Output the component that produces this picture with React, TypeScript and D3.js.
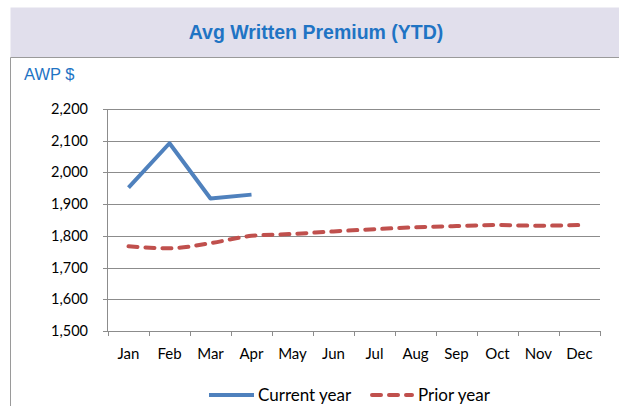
import React from "react";
import * as d3 from "d3";

const months = ["Jan", "Feb", "Mar", "Apr", "May", "Jun", "Jul", "Aug", "Sep", "Oct", "Nov", "Dec"];
const currentYear = [1952, 2092, 1918, 1930];
const priorYear = [1767, 1761, 1777, 1800, 1806, 1814, 1821, 1827, 1831, 1834, 1832, 1834];
const yTicks = [1500, 1600, 1700, 1800, 1900, 2000, 2100, 2200];

const W = 619;
const H = 406;
const plot = { left: 108, right: 600, top: 109, bottom: 331 };

export default function App() {
  const x = d3.scaleBand<string>().domain(months).range([plot.left, plot.right]).padding(0);
  const y = d3.scaleLinear().domain([1500, 2200]).range([plot.bottom, plot.top]);
  const cx = (m: string) => (x(m) as number) + x.bandwidth() / 2;

  const lineCur = d3
    .line<number>()
    .x((_, i) => cx(months[i]))
    .y((d) => y(d));
  const linePrior = d3
    .line<number>()
    .x((_, i) => cx(months[i]))
    .y((d) => y(d))
    .curve(d3.curveMonotoneX);

  const boundaries = d3.range(months.length + 1).map((i) => plot.left + i * x.bandwidth());
  const axisFont = "Lato, 'Open Sans', sans-serif";
  const gridColor = "#8c8c8c";

  return (
    <svg
      width={W}
      height={H}
      style={{ position: "absolute", left: 0, top: 0, background: "#fff" }}
    >
      {/* title band */}
      <rect x={10.5} y={7.5} width={W - 10.5} height={50} fill="#E1DFEC" />
      <line x1={10.5} x2={W} y1={57.5} y2={57.5} stroke="#9a9a9a" strokeWidth={1} />
      <line x1={10.5} x2={10.5} y1={57.5} y2={H} stroke="#9a9a9a" strokeWidth={1} />
      <text
        x={316}
        y={39}
        textAnchor="middle"
        fontFamily="'Liberation Sans', Arial, sans-serif"
        fontWeight="bold"
        fontSize={19.5}
        fill="#1F74C4"
      >
        Avg Written Premium (YTD)
      </text>
      <text
        x={24}
        y={80}
        fontFamily="'Liberation Sans', Arial, sans-serif"
        fontSize={16.5}
        fill="#1F74C4"
      >
        AWP $
      </text>

      {/* gridlines */}
      {yTicks.map((t) => (
        <g key={t}>
          <line
            x1={plot.left - 5}
            x2={plot.right}
            y1={Math.round(y(t)) + 0.5}
            y2={Math.round(y(t)) + 0.5}
            stroke={gridColor}
            strokeWidth={1}
          />
          <text
            x={88}
            y={y(t) + 5}
            textAnchor="end"
            fontFamily={axisFont}
            fontSize={14.5}
            fill="#000"
          >
            {d3.format(",")(t)}
          </text>
        </g>
      ))}
      {/* y axis */}
      <line
        x1={plot.left - 0.5}
        x2={plot.left - 0.5}
        y1={plot.top}
        y2={plot.bottom}
        stroke={gridColor}
        strokeWidth={1}
      />
      {/* x ticks */}
      {boundaries.map((b, i) => (
        <line
          key={i}
          x1={Math.round(b) + 0.5}
          x2={Math.round(b) + 0.5}
          y1={plot.bottom}
          y2={plot.bottom + 5}
          stroke={gridColor}
          strokeWidth={1}
        />
      ))}
      {months.map((m) => (
        <text
          key={m}
          x={cx(m)}
          y={359}
          textAnchor="middle"
          fontFamily={axisFont}
          fontSize={15}
          fill="#000"
        >
          {m}
        </text>
      ))}

      {/* series */}
      <path
        d={linePrior(priorYear) || ""}
        fill="none"
        stroke="#C0504D"
        strokeWidth={4}
        strokeDasharray="9,8"
        strokeLinecap="round"
      />
      <path
        d={lineCur(currentYear) || ""}
        fill="none"
        stroke="#4F81BD"
        strokeWidth={4}
        strokeLinejoin="round"
      />

      {/* legend */}
      <line x1={209} x2={254} y1={395} y2={395} stroke="#4F81BD" strokeWidth={4} />
      <text x={258} y={400.5} fontFamily={axisFont} fontSize={17} fill="#000">
        Current year
      </text>
      <line
        x1={372}
        x2={412}
        y1={395}
        y2={395}
        stroke="#C0504D"
        strokeWidth={4}
        strokeDasharray="9,8"
        strokeLinecap="round"
      />
      <text x={418} y={400.5} fontFamily={axisFont} fontSize={17} fill="#000">
        Prior year
      </text>
    </svg>
  );
}
